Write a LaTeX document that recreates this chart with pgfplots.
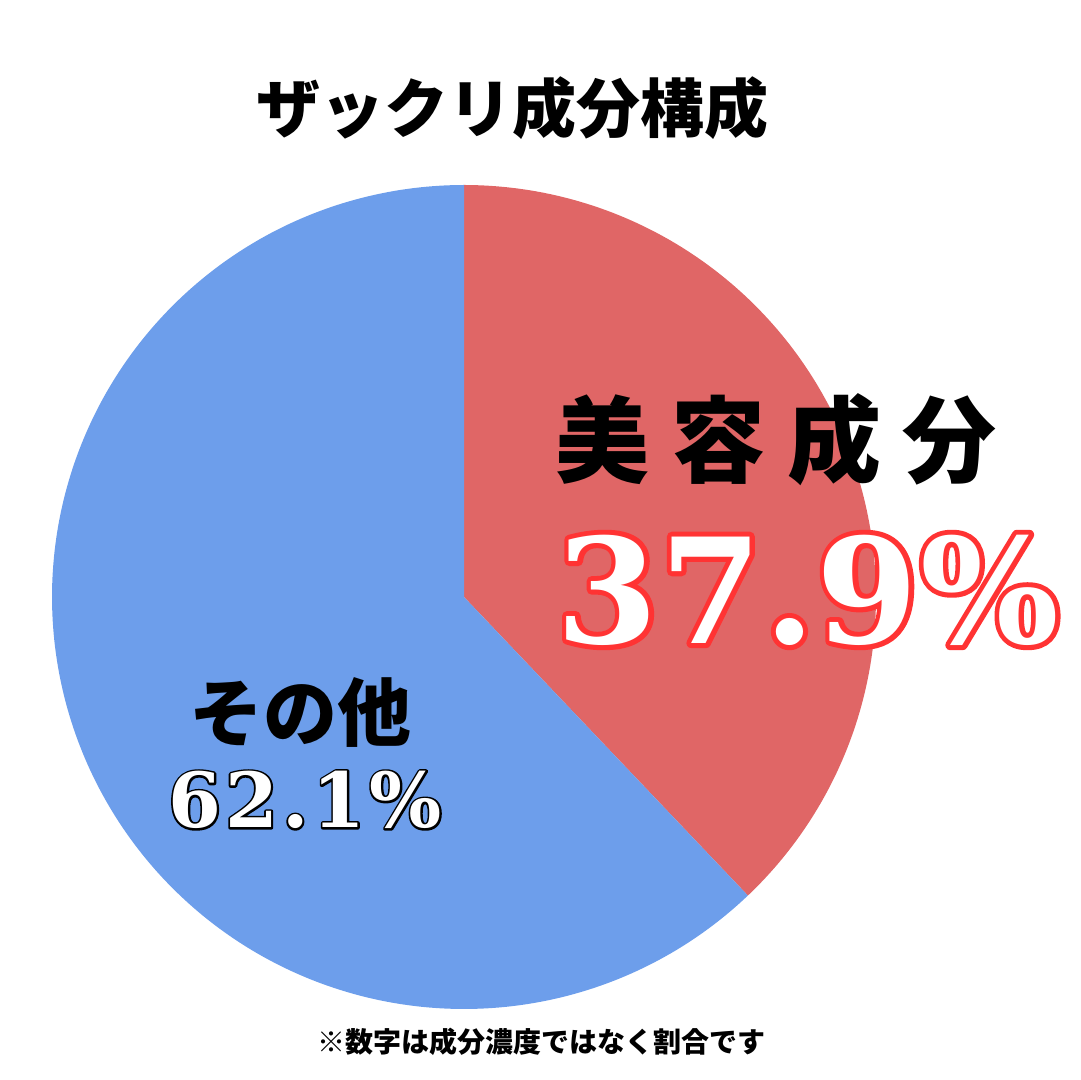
\documentclass[border=0pt]{standalone}
\usepackage{pgfplots}
\pgfplotsset{compat=1.18}
\usepackage{fontspec}
\setmainfont{DejaVu Serif}
\newfontfamily\cjk{Noto Sans CJK JP}
\definecolor{pieRed}{HTML}{E06666}
\definecolor{pieBlue}{HTML}{6D9EEB}
\definecolor{outRed}{HTML}{FF3333}
\begin{document}
\begin{tikzpicture}
\useasboundingbox (0,0) rectangle (540pt,540pt);
\begin{axis}[at={(232pt,241.5pt)}, anchor=center, width=412pt, height=412pt,
  scale only axis, xmin=-1, xmax=1, ymin=-1, ymax=1, hide axis, clip=false]
\addplot[draw=none, fill=pieRed, domain=0:37.9, samples=150] ({sin(3.6*x)}, {cos(3.6*x)}) -- (axis cs:0,0) -- cycle;
\addplot[draw=none, fill=pieBlue, domain=37.9:100, samples=250] ({sin(3.6*x)}, {cos(3.6*x)}) -- (axis cs:0,0) -- cycle;
\end{axis}
\node[inner sep=0pt] at (256pt,486pt) {\cjk\bfseries\fontsize{32pt}{36pt}\selectfont ザックリ成分構成};
\node[inner sep=0pt] at (270.5pt,19pt) {\cjk\bfseries\fontsize{14pt}{16pt}\selectfont ※数字は成分濃度ではなく割合です};
\node[inner sep=0pt] at (388pt,320pt) {\cjk\bfseries\fontsize{47pt}{50pt}\selectfont 美\hspace{11pt}容\hspace{11pt}成\hspace{11pt}分};
\node[inner sep=0pt] at (150pt,184pt) {\cjk\bfseries\fontsize{37pt}{40pt}\selectfont その他};
\node[inner sep=0pt,text=outRed] at (404pt,245pt) {\special{pdf:literal q 2 Tr 5 w 1 1 J 1 j 1 0.2 0.2 RG}\bfseries\fontsize{73pt}{76pt}\selectfont 3\hspace{1pt}7\hspace{1pt}.\hspace{1pt}9\hspace{1pt}\%\special{pdf:literal Q}};
\node[inner sep=0pt,text=white] at (404pt,245pt) {\bfseries\fontsize{73pt}{76pt}\selectfont 3\hspace{1pt}7\hspace{1pt}.\hspace{1pt}9\hspace{1pt}\%};
\node[inner sep=0pt,text=black] at (152.5pt,140pt) {\special{pdf:literal q 2 Tr 2 w 1 j 0 0 0 RG}\bfseries\fontsize{38pt}{40pt}\selectfont 6\hspace{2pt}2\hspace{2pt}.\hspace{2pt}1\hspace{2pt}\%\special{pdf:literal Q}};
\node[inner sep=0pt,text=white] at (152.5pt,140pt) {\bfseries\fontsize{38pt}{40pt}\selectfont 6\hspace{2pt}2\hspace{2pt}.\hspace{2pt}1\hspace{2pt}\%};
\end{tikzpicture}
\end{document}
